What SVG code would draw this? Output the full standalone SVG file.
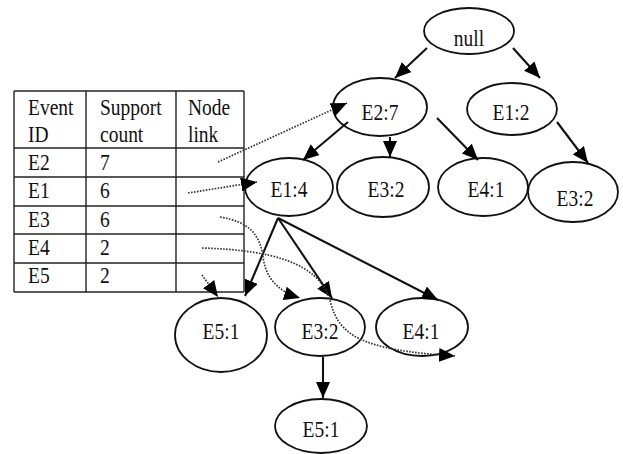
<svg xmlns="http://www.w3.org/2000/svg" width="623" height="454" viewBox="0 0 623 454">
<style>
text{font-family:"Liberation Serif","Times New Roman",serif;font-size:19.5px;fill:#111}
.n text{text-anchor:middle}
.n ellipse{fill:#fff;stroke:#111;stroke-width:1.8}
.tbl line{stroke:#222;stroke-width:1.4}
.s{stroke:#111;stroke-width:2.1;fill:none;marker-end:url(#ah)}
.d{stroke:#333;stroke-width:1.7;fill:none;stroke-dasharray:1.6 1.4;marker-end:url(#ah)}
</style>
<defs>
<marker id="ah" markerUnits="userSpaceOnUse" markerWidth="16" markerHeight="14" refX="16" refY="7" orient="auto">
<path d="M0,0 L16,7 L0,14 Z" fill="#000"/>
</marker>
</defs>
<rect width="623" height="454" fill="#fff"/>
<g id="table" class="tbl">
<line x1="14" y1="91" x2="244" y2="91"/>
<line x1="14" y1="148" x2="244" y2="148"/>
<line x1="14" y1="177" x2="244" y2="177"/>
<line x1="14" y1="206" x2="244" y2="206"/>
<line x1="14" y1="234" x2="244" y2="234"/>
<line x1="14" y1="263" x2="244" y2="263"/>
<line x1="14" y1="292" x2="244" y2="292"/>
<line x1="14" y1="91" x2="14" y2="292"/>
<line x1="86" y1="91" x2="86" y2="292"/>
<line x1="176" y1="91" x2="176" y2="292"/>
<line x1="244" y1="91" x2="244" y2="292"/>
<text transform="translate(28,115) scale(1,1.2)">Event</text><text transform="translate(28,142) scale(1,1.2)">ID</text>
<text transform="translate(100,115) scale(1,1.2)">Support</text><text transform="translate(100,142) scale(1,1.2)">count</text>
<text transform="translate(188,115) scale(1,1.2)">Node</text><text transform="translate(188,142) scale(1,1.2)">link</text>
<text transform="translate(28,170) scale(1,1.2)">E2</text><text transform="translate(100,170) scale(1,1.2)">7</text>
<text transform="translate(28,198) scale(1,1.2)">E1</text><text transform="translate(100,198) scale(1,1.2)">6</text>
<text transform="translate(28,227) scale(1,1.2)">E3</text><text transform="translate(100,227) scale(1,1.2)">6</text>
<text transform="translate(28,255) scale(1,1.2)">E4</text><text transform="translate(100,255) scale(1,1.2)">2</text>
<text transform="translate(28,283) scale(1,1.2)">E5</text><text transform="translate(100,283) scale(1,1.2)">2</text>
</g>
<g id="nodes" class="n">
<g id="n-null"><ellipse cx="469" cy="31" rx="45" ry="23"/><text transform="translate(469,46) scale(1,1.2)">null</text></g>
<g id="n-e2-7"><ellipse cx="380" cy="107" rx="47" ry="29"/><text transform="translate(380,120) scale(1,1.2)">E2:7</text></g>
<g id="n-e1-2"><ellipse cx="512" cy="109" rx="45" ry="26"/><text transform="translate(511,120) scale(1,1.2)">E1:2</text></g>
<g id="n-e1-4"><ellipse cx="289" cy="187" rx="44" ry="29"/><text transform="translate(289,197) scale(1,1.2)">E1:4</text></g>
<g id="n-e3-2a"><ellipse cx="383" cy="187" rx="46" ry="30"/><text transform="translate(386,197) scale(1,1.2)">E3:2</text></g>
<g id="n-e4-1a"><ellipse cx="483" cy="187" rx="45" ry="29"/><text transform="translate(486,197) scale(1,1.2)">E4:1</text></g>
<g id="n-e3-2b"><ellipse cx="573" cy="192" rx="45" ry="30"/><text transform="translate(575,206) scale(1,1.2)">E3:2</text></g>
<g id="n-e5-1a"><ellipse cx="221" cy="335" rx="46" ry="37"/><text transform="translate(221,339) scale(1,1.2)">E5:1</text></g>
<g id="n-e3-2c"><ellipse cx="320" cy="327" rx="45" ry="29"/><text transform="translate(320,339) scale(1,1.2)">E3:2</text></g>
<g id="n-e4-1b"><ellipse cx="422" cy="327" rx="46" ry="29"/><text transform="translate(421,339) scale(1,1.2)">E4:1</text></g>
<g id="n-e5-1b"><ellipse cx="321" cy="426" rx="46" ry="27"/><text transform="translate(321,437) scale(1,1.2)">E5:1</text></g>
</g>
<g id="connectors">
<path class="s" d="M427,48 L395,78"/>
<path class="s" d="M513,48 L540,78"/>
<path class="s" d="M348,122 L303,160"/>
<path class="s" d="M390,137 L390,157"/>
<path class="s" d="M437,118 L478,160"/>
<path class="s" d="M557,122 L588,163"/>
<path class="s" d="M278,218 L245,296"/>
<path class="s" d="M278,218 L332,298"/>
<path class="s" d="M278,218 L438,300"/>
<path class="s" d="M323,357 L323,398"/>
<path class="d" d="M218,162 L347,103"/>
<path class="d" d="M188,193 L257,182"/>
<path class="d" d="M220,217 C250,222 260,235 263,257 C266,280 280,292 300,298"/>
<path class="d" d="M202,248 C270,250 318,262 330,300 C338,335 360,350 455,356"/>
<path class="d" d="M202,275 L218,297"/>
</g>
</svg>
